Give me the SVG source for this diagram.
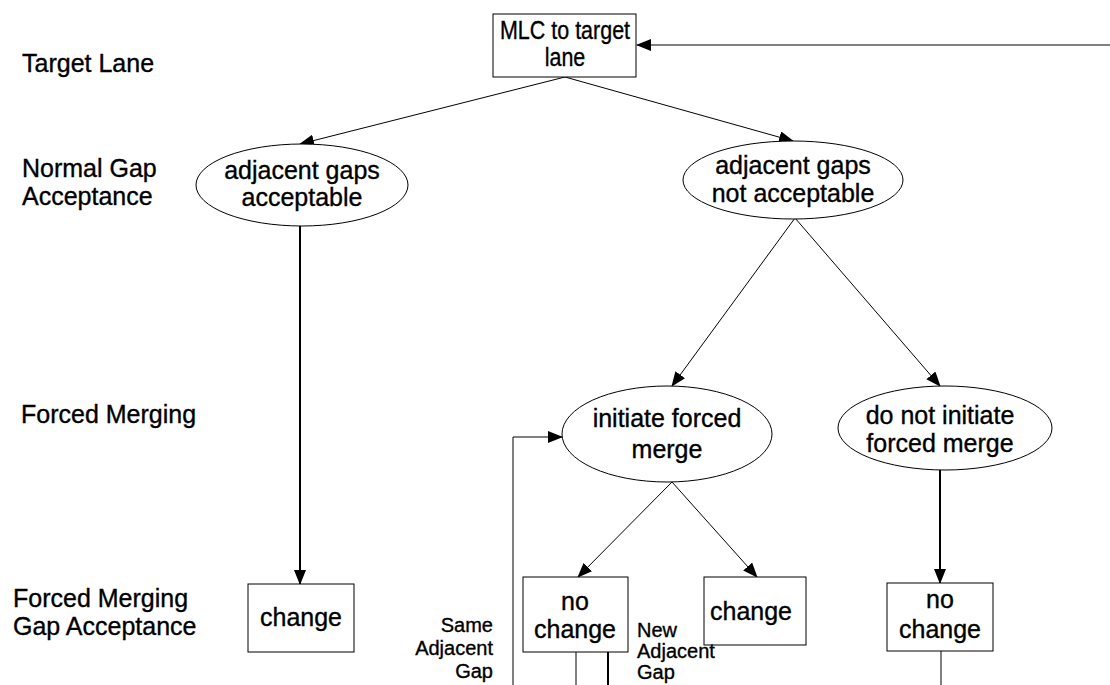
<svg xmlns="http://www.w3.org/2000/svg" width="1110" height="685" viewBox="0 0 1110 685">
<defs>
<marker id="ah" markerWidth="15" markerHeight="12" refX="14" refY="6" orient="auto" markerUnits="userSpaceOnUse">
<path d="M0,0 L15,6 L0,12 Z" fill="#000"/>
</marker>
</defs>
<style>
text{font-family:"Liberation Sans",Arial,sans-serif;fill:#000;stroke:#000;stroke-width:0.35}
.lbl{font-size:25px}
.nt{font-size:25px;text-anchor:middle}
.sm{font-size:20px}
.box{fill:#fff;stroke:#000;stroke-width:1}
.ell{fill:#fff;stroke:#000;stroke-width:1}
.c{fill:none;stroke:#000;stroke-width:1}
.ct{fill:none;stroke:#000;stroke-width:2}
</style>
<rect width="1110" height="685" fill="#fff"/>
<g id="row-labels">
<text class="lbl" x="22" y="72">Target Lane</text>
<text class="lbl" x="22" y="177">Normal Gap</text>
<text class="lbl" x="22" y="205">Acceptance</text>
<text class="lbl" x="21" y="423">Forced Merging</text>
<text class="lbl" x="13" y="607">Forced Merging</text>
<text class="lbl" x="13" y="635">Gap Acceptance</text>
</g>
<g id="connectors">
<line class="c" x1="1110" y1="45" x2="637" y2="45" marker-end="url(#ah)"/>
<line class="c" x1="565" y1="77" x2="300" y2="144" marker-end="url(#ah)"/>
<line class="c" x1="565" y1="77" x2="793" y2="141" marker-end="url(#ah)"/>
<line class="ct" x1="300" y1="226" x2="300" y2="584" marker-end="url(#ah)"/>
<line class="c" x1="795" y1="218" x2="672" y2="386" marker-end="url(#ah)"/>
<line class="c" x1="795" y1="218" x2="940" y2="386" marker-end="url(#ah)"/>
<line class="c" x1="672" y1="482" x2="578" y2="577" marker-end="url(#ah)"/>
<line class="c" x1="672" y1="482" x2="757" y2="577" marker-end="url(#ah)"/>
<line class="ct" x1="940" y1="470" x2="940" y2="583" marker-end="url(#ah)"/>
<polyline class="c" points="513,685 513,437 562,437" marker-end="url(#ah)"/>
<line class="c" x1="576" y1="652" x2="576" y2="685"/>
<line class="ct" x1="608" y1="652" x2="608" y2="685"/>
<line class="c" x1="941" y1="651" x2="941" y2="685"/>
</g>
<g id="mlc">
<rect class="box" x="493" y="14" width="143" height="63"/>
<g transform="translate(565,0) scale(0.86,1)">
<text class="nt" x="0" y="39">MLC to target</text>
<text class="nt" x="0" y="66">lane</text>
</g>
</g>
<g id="gaps-acceptable">
<ellipse class="ell" cx="302" cy="185" rx="106" ry="41"/>
<text class="nt" x="302" y="179">adjacent gaps</text>
<text class="nt" x="302" y="206">acceptable</text>
</g>
<g id="gaps-not-acceptable">
<ellipse class="ell" cx="793" cy="180" rx="110" ry="39"/>
<text class="nt" x="793" y="174">adjacent gaps</text>
<text class="nt" x="793" y="202">not acceptable</text>
</g>
<g id="initiate">
<ellipse class="ell" cx="667" cy="434" rx="105" ry="48"/>
<text class="nt" x="667" y="427">initiate forced</text>
<text class="nt" x="667" y="458">merge</text>
</g>
<g id="not-initiate">
<ellipse class="ell" cx="945" cy="428" rx="107" ry="42"/>
<text class="nt" x="940" y="424">do not initiate</text>
<text class="nt" x="940" y="452">forced merge</text>
</g>
<g id="change-left">
<rect class="box" x="248" y="584" width="106" height="68"/>
<text class="nt" x="301" y="626">change</text>
</g>
<g id="nochange-mid">
<rect class="box" x="523" y="577" width="105" height="75"/>
<text class="nt" x="575" y="610">no</text>
<text class="nt" x="575" y="638">change</text>
</g>
<g id="change-mid">
<rect class="box" x="704" y="577" width="102" height="68"/>
<text class="nt" x="751" y="620">change</text>
</g>
<g id="nochange-right">
<rect class="box" x="887" y="583" width="106" height="68"/>
<text class="nt" x="940" y="608">no</text>
<text class="nt" x="940" y="638">change</text>
</g>
<g id="loop-labels">
<text class="sm" x="493" y="632" text-anchor="end">Same</text>
<text class="sm" x="493" y="655" text-anchor="end">Adjacent</text>
<text class="sm" x="493" y="678" text-anchor="end">Gap</text>
<text class="sm" x="637" y="637">New</text>
<text class="sm" x="637" y="658">Adjacent</text>
<text class="sm" x="637" y="679">Gap</text>
</g>
</svg>
